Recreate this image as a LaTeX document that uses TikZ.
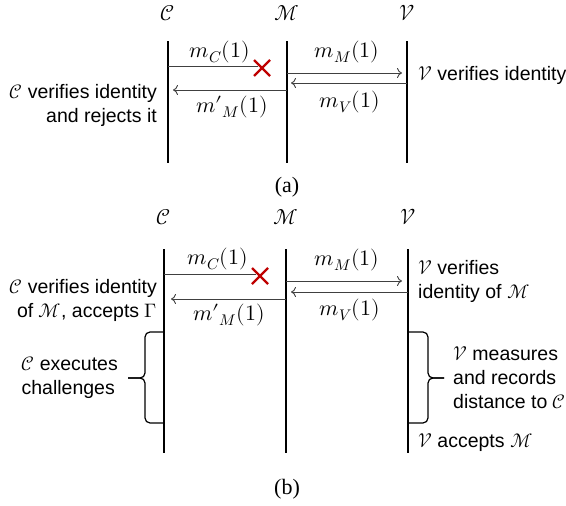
\documentclass[tikz,border=0pt]{standalone}
\usepackage{fontspec}
\usepackage{unicode-math}
\setmainfont{Liberation Sans}
\setmathfont{Latin Modern Math}
\newfontfamily\capfont{Liberation Serif}
\usetikzlibrary{arrows.meta}

\tikzset{
  actor/.style={font=\fontsize{21.5}{26}\selectfont},
  lifeline/.style={line width=1.2pt},
  msg/.style={line width=0.9pt, black!75, -{To[length=5pt,width=10pt]}},
  lostmsg/.style={line width=0.9pt, black!75},
  msglabel/.style={font=\fontsize{22}{26}\selectfont},
  crossmark/.style={draw=red!75!black, line width=2.4pt},
  note/.style={inner sep=1pt},
  bracket/.style={line width=1.2pt, rounded corners=5pt},
  caption/.style={font=\capfont\fontsize{22}{26}\selectfont},
}

\begin{document}
\begin{tikzpicture}[x=1pt,y=-1pt,font=\fontsize{19.5}{24}\selectfont]
  \useasboundingbox (0,0) rectangle (566,506);

  % ---- (a): the forwarded reply is rejected
  \node[actor] (ca) at (168,13) {$\mathcal{C}$};
  \node[actor] (ma) at (287,13) {$\mathcal{M}$};
  \node[actor] (va) at (407,13) {$\mathcal{V}$};
  \coordinate (ca1) at (168,41);  \coordinate (ca2) at (168,163);
  \coordinate (ma1) at (287,41);  \coordinate (ma2) at (287,163);
  \coordinate (va1) at (407,41);  \coordinate (va2) at (407,163);
  \draw[lifeline] (ca1) -- (ca2);
  \draw[lifeline] (ma1) -- (ma2);
  \draw[lifeline] (va1) -- (va2);

  \coordinate (a1s) at (168,66);  \coordinate (a1e) at (258,66);
  \coordinate (a1x) at (262,68);
  \coordinate (a2s) at (287,73);  \coordinate (a2e) at (402,73);
  \coordinate (a3s) at (407,83);  \coordinate (a3e) at (291,83);
  \coordinate (a4s) at (287,90);  \coordinate (a4e) at (173,90);
  \draw[lostmsg] (a1s) -- (a1e);
  \draw[crossmark] (a1x) +(-8,-8) -- +(8,8) +(-8,8) -- +(8,-8);
  \draw[msg] (a2s) -- (a2e);
  \draw[msg] (a3s) -- (a3e);
  \draw[msg] (a4s) -- (a4e);
  \node[msglabel] (la1) at (220,52) {$m_C(1)$};
  \node[msglabel] (la2) at (347,52) {$m_M(1)$};
  \node[msglabel] (la3) at (350,102) {$m_V(1)$};
  \node[msglabel] (la4) at (232,107) {$m{\prime}_M(1)$};

  \node[note, anchor=east, align=right] (cna) at (158,105)
    {$\mathcal{C}$ verifies identity\\and rejects it};
  \node[note, anchor=west] (vna) at (417,75) {$\mathcal{V}$ verifies identity};
  \node[caption] (capa) at (287,187) {(a)};

  % ---- (b): the relayed run is accepted
  \node[actor] (cb) at (164,217) {$\mathcal{C}$};
  \node[actor] (mb) at (286,217) {$\mathcal{M}$};
  \node[actor] (vb) at (408,217) {$\mathcal{V}$};
  \coordinate (cb1) at (164,249);  \coordinate (cb2) at (164,453);
  \coordinate (mb1) at (286,249);  \coordinate (mb2) at (286,453);
  \coordinate (vb1) at (408,249);  \coordinate (vb2) at (408,453);
  \draw[lifeline] (cb1) -- (cb2);
  \draw[lifeline] (mb1) -- (mb2);
  \draw[lifeline] (vb1) -- (vb2);

  \coordinate (b1s) at (164,274);  \coordinate (b1e) at (256,274);
  \coordinate (b1x) at (260,276);
  \coordinate (b2s) at (286,281);  \coordinate (b2e) at (402,281);
  \coordinate (b3s) at (408,292);  \coordinate (b3e) at (291,292);
  \coordinate (b4s) at (286,299);  \coordinate (b4e) at (171,299);
  \draw[lostmsg] (b1s) -- (b1e);
  \draw[crossmark] (b1x) +(-8,-8) -- +(8,8) +(-8,8) -- +(8,-8);
  \draw[msg] (b2s) -- (b2e);
  \draw[msg] (b3s) -- (b3e);
  \draw[msg] (b4s) -- (b4e);
  \node[msglabel] (lb1) at (218,259) {$m_C(1)$};
  \node[msglabel] (lb2) at (347,260) {$m_M(1)$};
  \node[msglabel] (lb3) at (350,310) {$m_V(1)$};
  \node[msglabel] (lb4) at (229,315) {$m{\prime}_M(1)$};

  \node[note, anchor=east, align=right] (cnb) at (158,300)
    {$\mathcal{C}$ verifies identity\\of $\mathcal{M}$, accepts $\Gamma$};
  \node[note, anchor=west, align=left] (vnb) at (417,281)
    {$\mathcal{V}$ verifies\\identity of $\mathcal{M}$};

  % challenge phase braces, one half at a time
  \coordinate (cbr1) at (163,332);  \coordinate (cbr2) at (163,423);
  \coordinate (vbr1) at (409,332);  \coordinate (vbr2) at (409,423);
  \coordinate (ctip) at (128,378);
  \coordinate (vtip) at (444,378);
  \draw[bracket] (cbr1) -| (145,378) -- (ctip);
  \draw[bracket] (cbr2) -| (145,378) -- (ctip);
  \draw[bracket] (vbr1) -| (428,378) -- (vtip);
  \draw[bracket] (vbr2) -| (428,378) -- (vtip);
  \node[note, anchor=east, align=left] (cex) at ([xshift=-9pt]ctip)
    {$\mathcal{C}$ executes\\challenges};
  \node[note, anchor=west, align=left] (vms) at ([xshift=8pt]vtip)
    {$\mathcal{V}$ measures\\and records\\distance to $\mathcal{C}$};
  \node[note, anchor=west] (vac) at (417,443) {$\mathcal{V}$ accepts $\mathcal{M}$};
  \node[caption] (capb) at (287,489) {(b)};
\end{tikzpicture}
\end{document}
